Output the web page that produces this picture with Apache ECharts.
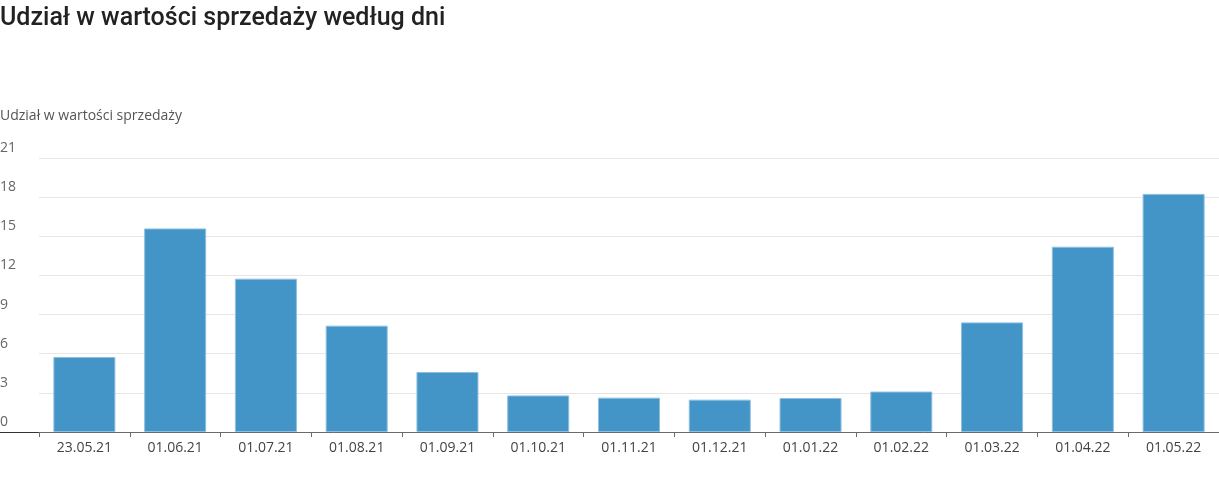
<!DOCTYPE html>
<html>
<head>
<meta charset="utf-8">
<script src="https://cdn.jsdelivr.net/npm/echarts@6/dist/echarts.min.js"></script>
<style>
  html, body { margin: 0; padding: 0; background: #fff; }
  #chart { width: 1219px; height: 487px; }
</style>
</head>
<body>
<div id="chart"></div>
<script>
// dane
const categories = ['23.05.21', '01.06.21', '01.07.21', '01.08.21', '01.09.21', '01.10.21', '01.11.21',
  '01.12.21', '01.01.22', '01.02.22', '01.03.22', '01.04.22', '01.05.22']
const shareValues = [5.75, 15.6, 11.75, 8.15, 4.6, 2.8, 2.63, 2.48, 2.6, 3.1, 8.4, 14.2, 18.25]
const yTicks = { min: 0, max: 21, step: 3 }

const chart = echarts.init(document.getElementById('chart'))

chart.setOption({
  backgroundColor: '#fff',
  animation: false,
  title: [{
    text: 'Udział w wartości sprzedaży według dni',
    left: 0,
    top: 6,
    padding: 0,
    textStyle: { fontFamily: 'Roboto', fontSize: 25, fontWeight: 500, color: '#222' }
  }, {
    text: 'Udział w wartości sprzedaży',
    left: 0,
    top: 109,
    padding: 0,
    textStyle: { fontFamily: 'Open Sans', fontSize: 14, fontWeight: 'normal', color: '#555' }
  }],
  grid: { left: 39, right: 0, top: 158, bottom: 55, outerBoundsMode: 'none' },
  // krótki ciemny odcinek osi po lewej stronie
  graphic: [{
    type: 'line',
    shape: { x1: 0, y1: 432.5, x2: 39, y2: 432.5 },
    style: { stroke: '#333', lineWidth: 1 }
  }],
  xAxis: {
    type: 'category',
    data: categories,
    axisLine: { lineStyle: { color: '#6b6b6b', width: 1 } },
    axisTick: { show: true, length: 5, lineStyle: { color: '#6b6b6b' } },
    axisLabel: { fontFamily: 'Open Sans', fontSize: 14, color: '#444', margin: 9 }
  },
  yAxis: {
    type: 'value',
    min: yTicks.min,
    max: yTicks.max,
    interval: yTicks.step,
    axisLine: { show: false },
    axisTick: { show: false },
    splitLine: { lineStyle: { color: '#e6e6e6', width: 1 } },
    axisLabel: {
      fontFamily: 'Open Sans', fontSize: 14, color: '#666',
      align: 'left', margin: 39, verticalAlign: 'bottom', padding: [0, 0, 3, 0]
    }
  },
  series: [{
    type: 'bar',
    data: shareValues,
    barWidth: 62,
    itemStyle: { color: '#4394c7', borderColor: '#8dbfe0', borderWidth: 1 }
  }]
})
</script>
</body>
</html>
